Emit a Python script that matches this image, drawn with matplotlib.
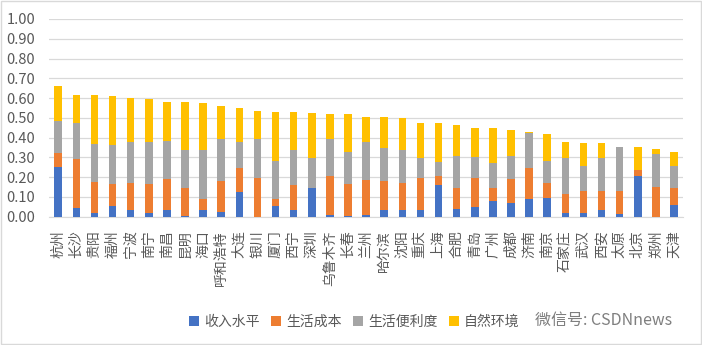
import matplotlib
matplotlib.use("Agg")
import matplotlib.pyplot as plt
from matplotlib.patches import Rectangle
import numpy as np

plt.rcParams["font.family"] = ["Noto Sans CJK SC", "DejaVu Sans"]

cities = ["杭州", "长沙", "贵阳", "福州", "宁波", "南宁", "南昌", "昆明", "海口", "呼和浩特",
          "大连", "银川", "厦门", "西宁", "深圳", "乌鲁木齐", "长春", "兰州", "哈尔滨", "沈阳",
          "重庆", "上海", "合肥", "青岛", "广州", "成都", "济南", "南京", "石家庄", "武汉",
          "西安", "太原", "北京", "郑州", "天津"]
income = [0.250, 0.042, 0.017, 0.054, 0.034, 0.020, 0.034, 0.005, 0.034, 0.024,
          0.125, 0.000, 0.054, 0.034, 0.146, 0.010, 0.004, 0.006, 0.034, 0.034,
          0.034, 0.158, 0.037, 0.051, 0.081, 0.068, 0.088, 0.096, 0.020, 0.017,
          0.034, 0.014, 0.206, 0.000, 0.059]
cost = [0.070, 0.249, 0.160, 0.111, 0.138, 0.145, 0.158, 0.138, 0.054, 0.158,
        0.119, 0.194, 0.034, 0.124, 0.000, 0.197, 0.160, 0.180, 0.148, 0.138,
        0.160, 0.048, 0.106, 0.143, 0.065, 0.124, 0.156, 0.076, 0.095, 0.113,
        0.096, 0.116, 0.030, 0.152, 0.087]
convenience = [0.165, 0.181, 0.190, 0.197, 0.205, 0.212, 0.190, 0.194, 0.249, 0.209,
               0.133, 0.197, 0.195, 0.179, 0.150, 0.184, 0.165, 0.192, 0.163, 0.165,
               0.102, 0.072, 0.164, 0.106, 0.124, 0.115, 0.177, 0.109, 0.181, 0.126,
               0.166, 0.222, 0.000, 0.165, 0.110]
nature = [0.175, 0.143, 0.248, 0.248, 0.224, 0.217, 0.197, 0.242, 0.236, 0.170,
          0.172, 0.146, 0.244, 0.190, 0.226, 0.126, 0.189, 0.125, 0.157, 0.160,
          0.176, 0.194, 0.156, 0.151, 0.176, 0.131, 0.007, 0.137, 0.081, 0.116,
          0.076, 0.000, 0.116, 0.025, 0.071]

series = [("收入水平", income, "#4472C4"),
          ("生活成本", cost, "#ED7D31"),
          ("生活便利度", convenience, "#A5A5A5"),
          ("自然环境", nature, "#FFC000")]

fig = plt.figure(figsize=(7.02, 3.45), dpi=100)
fig.patches.append(Rectangle((0.001, 0.002), 0.997, 0.995, transform=fig.transFigure,
                             fill=False, edgecolor="#D9D9D9", linewidth=1))
ax = fig.add_axes([0.070, 0.372, 0.903, 0.573])

x = np.arange(len(cities))
bottom = np.zeros(len(cities))
for label, vals, color in series:
    vals = np.array(vals)
    ax.bar(x, vals, 0.42, bottom=bottom, color=color, label=label, zorder=3)
    bottom += vals

ax.set_xlim(-0.5, len(cities) - 0.5)
ax.set_ylim(0, 1.0)
ax.set_yticks(np.arange(0, 1.01, 0.1))
ax.set_yticklabels([f"{v:.2f}" for v in np.arange(0, 1.01, 0.1)])
ax.yaxis.grid(True, color="#D9D9D9", linewidth=0.9, zorder=0)
ax.set_xticks(x)
ax.set_xticklabels(cities, rotation=90)
ax.tick_params(axis="both", length=0, colors="#595959", labelsize=10)
ax.tick_params(axis="x", pad=10)
ax.tick_params(axis="y", labelsize=10.5, labelcolor="#595959", pad=10)
for side in ["top", "right", "left"]:
    ax.spines[side].set_visible(False)
ax.spines["bottom"].set_color("#D9D9D9")

fig.legend(loc="center", bbox_to_anchor=(0.505, 0.067), ncol=4, frameon=False,
           fontsize=10, handlelength=0.7, handleheight=0.7, handletextpad=0.4,
           columnspacing=0.8, labelcolor="#595959")
fig.text(0.762, 0.07, "微信号: CSDNnews", fontsize=11.5, color="#7F7F7F", va="center")

fig.savefig("out.png", dpi=100)
